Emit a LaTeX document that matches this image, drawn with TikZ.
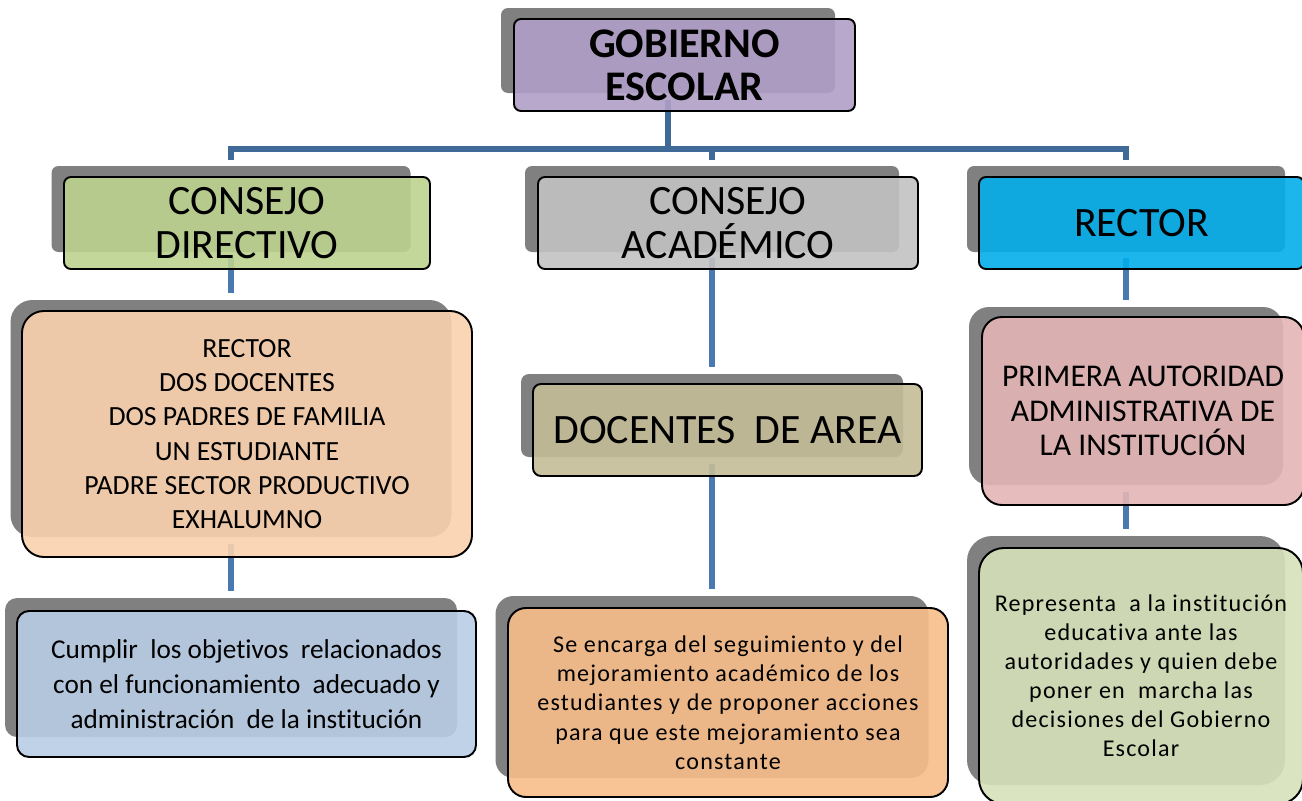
\documentclass[tikz,border=0pt]{standalone}
\usepackage{fontspec}
\setmainfont{Carlito}[Ligatures=NoCommon]
\newfontfamily\espaciada[LetterSpace=5,Ligatures=NoCommon]{Carlito}
\usepackage{tikz}

\definecolor{ramaazul}{RGB}{63,106,152}
\definecolor{lineaazul}{RGB}{74,120,176}
\definecolor{sombragris}{RGB}{128,128,128}
\definecolor{morado}{RGB}{176,159,199}
\definecolor{verdedir}{RGB}{189,211,144}
\definecolor{grisaca}{RGB}{194,194,194}
\definecolor{celeste}{RGB}{3,173,234}
\definecolor{salmon}{RGB}{250,210,174}
\definecolor{azulclaro}{RGB}{185,205,229}
\definecolor{caqui}{RGB}{195,188,152}
\definecolor{naranja}{RGB}{248,190,137}
\definecolor{rosa}{RGB}{227,182,181}
\definecolor{verdeclaro}{RGB}{215,225,185}

\newdimen\pix \pix=0.02cm
\pgfdeclarelayer{sombras}
\pgfdeclarelayer{lineas}
\pgfsetlayers{sombras,lineas,main}

\begin{document}
\begin{tikzpicture}[x=0.02cm,y=-0.02cm,
    sombra/.style={fill=sombragris, inner sep=0pt},
    caja/.style={draw=black, line width=1.1pt, fill opacity=0.9, text opacity=1, inner sep=0pt, align=center},
    titulo/.style={font=\fontsize{23.8}{25.5}\selectfont},
    rama/.style={draw=ramaazul, line width=3.6pt},
    linea/.style={draw=lineaazul, line width=3pt}]
  \useasboundingbox (0,0) rectangle (1302,801);

  % sombras
  \begin{pgfonlayer}{sombras}
    \node[sombra, rounded corners=7*\pix, minimum width=334*\pix, minimum height=85*\pix] (s-gob) at (668,50.5) {};
    \node[sombra, rounded corners=7*\pix, minimum width=359*\pix, minimum height=86*\pix] (s-cd) at (231,209) {};
    \node[sombra, rounded corners=7*\pix, minimum width=374*\pix, minimum height=86*\pix] (s-ca) at (712,209) {};
    \node[sombra, rounded corners=7*\pix, minimum width=318*\pix, minimum height=86*\pix] (s-rec) at (1126,209) {};
    \node[sombra, rounded corners=22*\pix, minimum width=441*\pix, minimum height=237*\pix] (s-lista) at (231,418.5) {};
    \node[sombra, rounded corners=12*\pix, minimum width=452*\pix, minimum height=139*\pix] (s-fun) at (231,667.5) {};
    \node[sombra, rounded corners=8*\pix, minimum width=382*\pix, minimum height=83*\pix] (s-doc) at (712,415.5) {};
    \node[sombra, rounded corners=18*\pix, minimum width=433*\pix, minimum height=182*\pix] (s-seg) at (712,687) {};
    \node[sombra, rounded corners=20*\pix, minimum width=314*\pix, minimum height=178*\pix] (s-pri) at (1126,396) {};
    \node[sombra, rounded corners=25*\pix, minimum width=318*\pix, minimum height=249*\pix] (s-rep) at (1126,660.5) {};
  \end{pgfonlayer}

  % cajas
  \node[caja, fill=morado, rounded corners=7*\pix, minimum width=341*\pix, minimum height=92*\pix,
        font=\fontsize{24}{24.5}\selectfont\bfseries] (gob) at (684.5,65) {GOBIERNO\\ESCOLAR};
  \node[caja, titulo, fill=verdedir, rounded corners=7*\pix, minimum width=366*\pix, minimum height=92*\pix] (cd) at (247,223) {CONSEJO\\DIRECTIVO};
  \node[caja, titulo, fill=grisaca, rounded corners=7*\pix, minimum width=380*\pix, minimum height=92*\pix] (ca) at (728,223) {CONSEJO\\ACADÉMICO};
  \node[caja, titulo, fill=celeste, rounded corners=7*\pix, minimum width=325*\pix, minimum height=92*\pix] (rec) at (1141.5,223) {RECTOR};
  \node[caja, fill=salmon, rounded corners=22*\pix, minimum width=450*\pix, minimum height=246*\pix,
        font=\fontsize{15.8}{19.5}\selectfont] (lista) at (247,434)
        {RECTOR\\DOS DOCENTES\\DOS PADRES DE FAMILIA\\UN ESTUDIANTE\\PADRE SECTOR PRODUCTIVO\\EXHALUMNO};
  \node[caja, fill=azulclaro, rounded corners=12*\pix, minimum width=459*\pix, minimum height=146*\pix,
        font=\fontsize{15.5}{19.8}\selectfont] (fun) at (246.5,684)
        {Cumplir\ \ los objetivos\ \ relacionados\\con el funcionamiento\ \ adecuado y\\administración\ \ de la institución};
  \node[caja, titulo, fill=caqui, rounded corners=8*\pix, minimum width=389*\pix, minimum height=92*\pix] (doc) at (727.5,430) {DOCENTES\ \ DE AREA};
  \node[caja, fill=naranja, rounded corners=18*\pix, minimum width=440*\pix, minimum height=189*\pix,
        font=\espaciada\fontsize{13.7}{16.7}\selectfont] (seg) at (728,702.5)
        {Se encarga del seguimiento y del\\mejoramiento académico de los\\estudiantes y de proponer acciones\\para que este mejoramiento sea\\constante};
  \node[caja, fill=rosa, rounded corners=20*\pix, minimum width=322*\pix, minimum height=188*\pix,
        font=\fontsize{18}{19.6}\selectfont] (pri) at (1143,411)
        {PRIMERA AUTORIDAD\\ADMINISTRATIVA DE\\LA INSTITUCIÓN};
  \node[caja, fill=verdeclaro, rounded corners=25*\pix, minimum width=324*\pix, minimum height=256*\pix,
        font=\espaciada\fontsize{13.7}{16.5}\selectfont] (rep) at (1141,676)
        {Representa\ \ a la institución\\educativa ante las\\autoridades y quien debe\\poner en\ \ marcha las\\decisiones del Gobierno\\Escolar};

  % conectores
  \begin{pgfonlayer}{lineas}
    \coordinate (nudo) at (668,149);
    \draw[rama] ([yshift=-7*\pix]s-gob.south) -- (nudo);
    \draw[rama, line cap=rect] (s-cd.north |- nudo) -- (s-rec.north |- nudo);
    \foreach \n in {s-cd,s-ca,s-rec}
      \draw[rama, line width=2.9pt] (\n.north |- nudo) -- ([yshift=6*\pix]\n.north);
    \draw[linea] ([yshift=-6*\pix]s-cd.south) -- ([yshift=7*\pix]s-lista.north);
    \draw[linea] ([yshift=-6*\pix]s-ca.south) -- ([yshift=7*\pix]s-doc.north);
    \draw[linea] ([yshift=-6*\pix]s-rec.south) -- ([yshift=7*\pix]s-pri.north);
    \draw[linea] ([yshift=-7*\pix]s-lista.south) -- ([yshift=7*\pix]s-fun.north);
    \draw[linea] ([yshift=-7*\pix]s-doc.south) -- ([yshift=7*\pix]s-seg.north);
    \draw[linea] ([yshift=-7*\pix]s-pri.south) -- ([yshift=7*\pix]s-rep.north);
  \end{pgfonlayer}
\end{tikzpicture}
\end{document}
